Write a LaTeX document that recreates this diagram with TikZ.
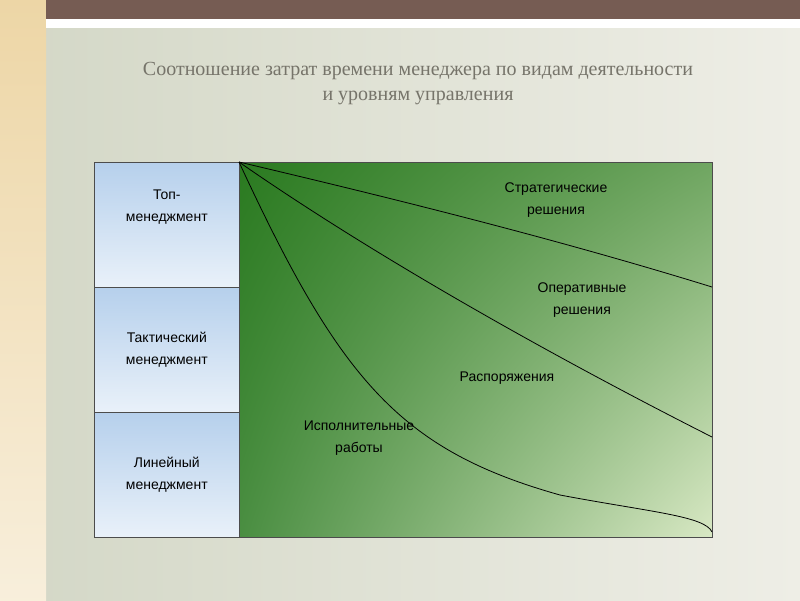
\documentclass[tikz,border=0pt]{standalone}
\usepackage{fontspec}
\usetikzlibrary{shadings}
\setmainfont{Liberation Serif}
\setsansfont{Liberation Sans}
\definecolor{brownbar}{HTML}{765C53}
\definecolor{bgA}{HTML}{D3D7C6}
\definecolor{bgB}{HTML}{EEEEE6}
\definecolor{beige}{HTML}{EDD6A6}
\definecolor{titlec}{HTML}{76746A}
\definecolor{dgreen}{HTML}{2A7A20}
\definecolor{lgreen}{HTML}{D8E8C4}
\definecolor{lblue}{HTML}{B6D0EC}
\tikzset{lvl/.style={draw=black!70,line width=0.6pt,top color=lblue,bottom color=lblue!30!white,align=center,font=\sffamily\fontsize{14}{22}\selectfont,minimum width=145pt,minimum height=125pt,inner sep=0pt,anchor=north west},
lab/.style={align=center,font=\sffamily\fontsize{14}{22}\selectfont,text=black},
cur/.style={black,line width=0.8pt}}
\begin{document}
\begin{tikzpicture}[x=1pt,y=-1pt]
\useasboundingbox (0,0) rectangle (800,600);
\shade[left color=bgA,right color=bgB] (0,0) rectangle (800,600);
\shade[top color=beige,bottom color=beige!40!white] (0,0) rectangle (46,600);
\fill[white] (46,0) rectangle (800,28);
\fill[brownbar] (46,0) rectangle (800,19);
\node[font=\fontsize{20}{25}\selectfont,text=titlec,align=center] (title) at (418,84) {Соотношение затрат времени менеджера по видам деятельности\\и уровням управления};
\node[lvl] (top) at (94,162) {Топ-\\менеджмент\\[16pt]};
\node[lvl] (tac) at (94,287) {Тактический\\менеджмент};
\node[lvl] (lin) at (94,412) {Линейный\\менеджмент};
\shade[upper left=dgreen,lower left=dgreen!85!white,upper right=dgreen!60!lgreen,lower right=lgreen] (239,162) rectangle (712,537);
\draw[black!70,line width=0.6pt] (239,162) rectangle (712,537);
\coordinate (o) at (239,162);
\coordinate (e1) at (712,287);
\coordinate (e2) at (712,437);
\coordinate (e3) at (712,532);
\draw[cur] (o) .. controls (400,200) and (560,240) .. (e1);
\draw[cur] (o) .. controls (380,260) and (560,360) .. (e2);
\draw[cur] (o) .. controls (340,380) and (400,450) .. (560,495) .. controls (650,512) and (705,516) .. (e3);
\node[lab] (s) at (556,200) {Стратегические\\решения};
\node[lab] (op) at (582,300) {Оперативные\\решения};
\node[lab] (r) at (507,378) {Распоряжения};
\node[lab] (i) at (359,438) {Исполнительные\\работы};
\end{tikzpicture}
\end{document}
